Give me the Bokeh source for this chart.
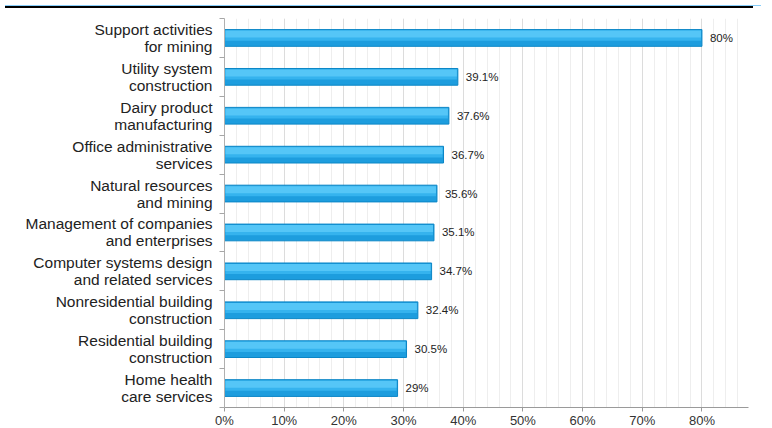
from bokeh.plotting import figure
from bokeh.models import (Range1d, FixedTicker, SingleIntervalTicker, CustomJSTickFormatter,
                          PrintfTickFormatter, ColumnDataSource, LabelSet, Div)
from bokeh.layouts import column
from bokeh.core.properties import value
from bokeh.embed import file_html
from bokeh.resources import INLINE

# ---- data (top to bottom) ----
categories = [
    "Support activities\nfor mining",
    "Utility system\nconstruction",
    "Dairy product\nmanufacturing",
    "Office administrative\nservices",
    "Natural resources\nand mining",
    "Management of companies\nand enterprises",
    "Computer systems design\nand related services",
    "Nonresidential building\nconstruction",
    "Residential building\nconstruction",
    "Home health\ncare services",
]
values = [80, 39.1, 37.6, 36.7, 35.6, 35.1, 34.7, 32.4, 30.5, 29]
value_labels = ["80%", "39.1%", "37.6%", "36.7%", "35.6%", "35.1%", "34.7%", "32.4%", "30.5%", "29%"]
x_max = 87.8

n = len(categories)
ys = [i + 0.5 for i in range(n)]
px = x_max / 524.0  # one pixel in data units (approx)
py = 1 / 39.0

src = ColumnDataSource(dict(
    y=ys,
    y_top=[y - 0.215 + py + 0.09 for y in ys],
    y_mid=[y - 0.215 + py + 0.13 for y in ys],
    val=values,
    hi_left=[px for _ in values],
    hi_right=[v - px for v in values],
    lab=value_labels,
))

FONT = "Liberation Sans"

band = Div(text="", width=756, height=3,
           styles={"background": "linear-gradient(#000,#000) 0 1px / 748px 2px no-repeat, "
                                 "linear-gradient(#87CEFA,#87CEFA) 0 0 / 100% 1px no-repeat"})

p = figure(width=756, height=417, output_backend="svg", toolbar_location=None,
           x_range=Range1d(0, x_max), y_range=Range1d(n, 0),
           min_border_left=224, min_border_right=8, min_border_top=5, min_border_bottom=0)
p.outline_line_color = None
p.background_fill_color = "white"
p.border_fill_color = "white"

# bars: base + layered highlights to mimic the gradient
p.hbar(y="y", left=0, right="val", height=0.43, source=src,
       fill_color="#1D9DDE", line_color="#0B86C6", line_width=1)
p.hbar(y="y_mid", left="hi_left", right="hi_right", height=0.26, source=src,
       fill_color="#35B3EE", line_color=None)
p.hbar(y="y_top", left="hi_left", right="hi_right", height=0.18, source=src,
       fill_color="#55C6F7", line_color=None)

labels = LabelSet(x="val", y="y", text="lab", source=src, x_offset=8,
                  text_baseline="middle", text_align="left",
                  text_font=value(FONT), text_font_size="11.5px", text_color="#222222")
p.add_layout(labels)

# x axis
p.xaxis.ticker = SingleIntervalTicker(interval=10, num_minor_ticks=5)
p.xaxis.formatter = PrintfTickFormatter(format="%d%%")
p.xaxis.major_label_text_font = FONT
p.xaxis.major_label_text_font_size = "13px"
p.xaxis.major_label_text_color = "#333333"
p.xaxis.major_label_standoff = 1
p.xaxis.axis_line_color = "#9a9a9a"
p.xaxis.major_tick_line_color = "#9a9a9a"
p.xaxis.major_tick_out = 4
p.xaxis.major_tick_in = 0
p.xaxis.minor_tick_line_color = None

# grid
p.xgrid.grid_line_color = "#dcdcdc"
p.xgrid.minor_grid_line_color = "#eeeeee"
p.ygrid.grid_line_color = None

# y axis
p.yaxis.ticker = FixedTicker(ticks=ys, minor_ticks=list(range(n + 1)))
p.yaxis.formatter = CustomJSTickFormatter(args=dict(labels=categories),
                                          code="return labels[Math.floor(tick)];")
p.yaxis.major_label_text_font = FONT
p.yaxis.major_label_text_font_size = "15.5px"
p.yaxis.major_label_text_line_height = 1.0
p.yaxis.major_label_text_color = "#222222"
p.yaxis.major_label_standoff = 6
p.yaxis.major_tick_line_color = None
p.yaxis.minor_tick_out = 5
p.yaxis.minor_tick_in = 0
p.yaxis.minor_tick_line_color = "#a6a6a6"
p.yaxis.axis_line_color = "#b0b0b0"

layout = column(band, p)
open("out.html", "w").write(file_html(layout, INLINE))
